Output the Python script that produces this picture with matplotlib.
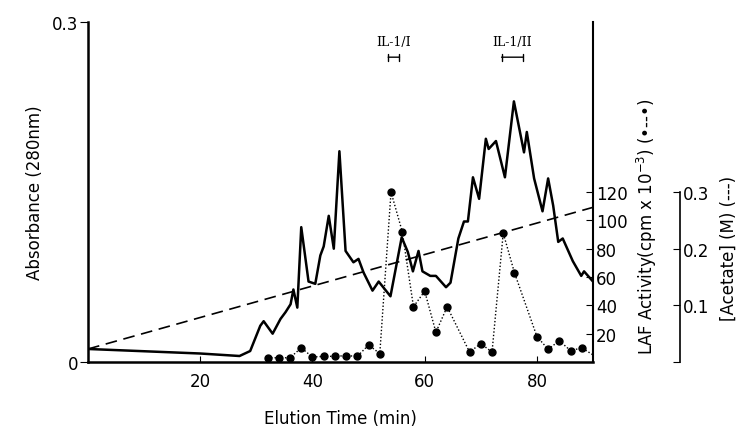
import matplotlib.pyplot as plt

# absorbance trace (280 nm)
time_abs = [0, 10, 20, 27, 28.9, 30.7, 31.3, 32.9, 34.3, 35.2, 36.1, 36.6, 37.3, 38.0,
            39.3, 40.5, 41.4, 42.0, 42.9, 43.8, 44.8, 45.9, 47.3, 48.2, 49.1, 50.7,
            51.8, 53.9, 55.9, 57.0, 57.9, 58.9, 59.6, 61.0, 62.0, 63.8, 64.6, 66.0,
            67.0, 67.7, 68.6, 69.7, 70.9, 71.4, 72.7, 74.3, 75.9, 77.7, 78.2, 79.5,
            81.0, 82.0, 82.9, 83.8, 84.6, 86.4, 87.9, 88.4, 90]
absorbance = [0.0115, 0.0095, 0.0075, 0.0053, 0.0097, 0.032, 0.036, 0.025, 0.038, 0.044,
              0.051, 0.064, 0.048, 0.119, 0.071, 0.069, 0.094, 0.102, 0.129, 0.100,
              0.186, 0.098, 0.088, 0.091, 0.079, 0.063, 0.071, 0.058, 0.110, 0.097,
              0.080, 0.098, 0.080, 0.076, 0.076, 0.066, 0.070, 0.109, 0.124, 0.124,
              0.163, 0.144, 0.197, 0.188, 0.195, 0.163, 0.230, 0.185, 0.203, 0.162,
              0.133, 0.162, 0.138, 0.106, 0.109, 0.089, 0.076, 0.080, 0.071]

# LAF activity (cpm x 10^-3)
time_laf = [32, 34, 36, 38, 40, 42, 44, 46, 48, 50, 52, 54, 56, 58, 60, 62, 64,
            68, 70, 72, 74, 76, 80, 82, 84, 86, 88, 90]
laf = [3, 3, 3, 10, 3.5, 4, 4, 4.5, 4, 12, 6, 120, 92, 39, 50, 21, 39,
       7, 13, 7, 91, 63, 18, 9, 15, 8, 10, 5]

# acetate gradient (M)
time_acetate = [0, 90]
acetate = [0.023, 0.273]

plt.rcParams['font.family'] = 'DejaVu Sans'
fig = plt.figure(figsize=(7.41, 4.35), dpi=100)
ax = fig.add_axes([0.1188, 0.1655, 0.6815, 0.7815])

ax.plot(time_abs, absorbance, color='black', lw=1.8)
ax.set_xlim(0, 90)
ax.set_ylim(0, 0.3)
ax.set_xticks([20, 40, 60, 80])
ax.set_yticks([0, 0.3])
ax.set_yticklabels(['0', '0.3'])
ax.tick_params(axis='x', direction='in', length=4, labelsize=12, pad=7)
ax.tick_params(axis='y', direction='out', length=6, labelsize=12, pad=1)
for s in ['top', 'right']:
    ax.spines[s].set_visible(False)
for s in ['left', 'bottom']:
    ax.spines[s].set_linewidth(1.8)
ax.set_xlabel('Elution Time (min)', fontsize=12, labelpad=14)
ax.set_ylabel('Absorbance (280nm)', fontsize=12, labelpad=6)

# LAF axis
ax2 = ax.twinx()
ax2.plot(time_laf, laf, color='black', ls=(0, (1, 1.5)), lw=1.0)
ax2.plot(time_laf[:-1], laf[:-1], 'o', color='black', ms=5)
ax2.set_ylim(0, 240)
ax2.set_yticks([20, 40, 60, 80, 100, 120])
ax2.tick_params(axis='y', direction='in', length=5, labelsize=12, pad=2)
for s in ['top', 'left', 'bottom']:
    ax2.spines[s].set_visible(False)
ax2.spines['right'].set_linewidth(1.5)
fig.text(0.873, 0.48, 'LAF Activity(cpm x 10$^{-3}$) (\u2022--\u2022)', rotation=90,
         fontsize=12, ha='center', va='center')

# acetate axis
ax3 = ax.twinx()
ax3.plot(time_acetate, acetate, color='black', ls=(0, (7, 4)), lw=1.2)
ax3.set_ylim(0, 0.6)
ax3.spines['right'].set_position(('axes', 1.172))
ax3.spines['right'].set_bounds(0, 0.3)
ax3.set_yticks([0, 0.1, 0.2, 0.3])
ax3.set_yticklabels(['', '0.1', '0.2', '0.3'])
ax3.tick_params(axis='y', direction='in', length=5, labelsize=12, pad=2)
for s in ['top', 'left', 'bottom']:
    ax3.spines[s].set_visible(False)
ax3.spines['right'].set_linewidth(1.2)
fig.text(0.983, 0.43, '[Acetate] (M) (---)', rotation=90,
         fontsize=12, ha='center', va='center')

# fraction brackets
for label, x0, x1 in [('IL-1/I', 53.0, 56.0), ('IL-1/II', 73.2, 78.0)]:
    ax.annotate('', xy=(x0, 0.269), xytext=(x1, 0.269),
                arrowprops=dict(arrowstyle='|-|', mutation_scale=2.5, lw=1.0, color='black'))
    ax.text((x0 + x1) / 2, 0.283, label, family='DejaVu Serif', fontsize=9,
            ha='center', va='center')

fig.savefig('out.png', dpi=100)
